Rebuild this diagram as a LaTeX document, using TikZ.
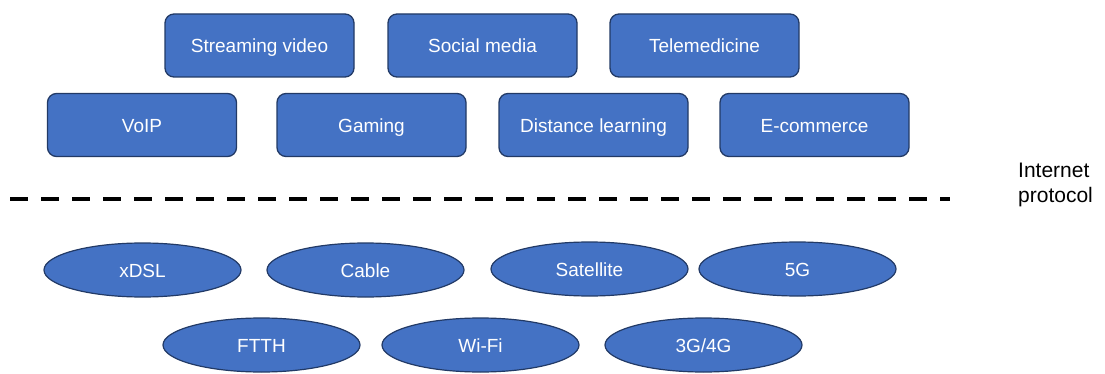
\documentclass[tikz,border=0pt]{standalone}
\usepackage{fontspec}
\setmainfont{Liberation Sans}
\usetikzlibrary{shapes.geometric}
\definecolor{boxblue}{HTML}{4472C4}
\definecolor{boxedge}{HTML}{223A66}
\begin{document}
\begin{tikzpicture}[x=1pt,y=-1pt,
  lbl/.style={text=white,font=\fontsize{19}{21}\selectfont,text height=19pt,text depth=4pt},
  appbox/.style={lbl,draw=boxedge,line width=1.3pt,fill=boxblue,rounded corners=9pt,
    minimum width=189pt,minimum height=63pt,inner sep=0pt},
  netell/.style={lbl,ellipse,draw=boxedge,line width=1.2pt,fill=boxblue,
    minimum width=197pt,minimum height=54pt,inner sep=0pt},
  sepline/.style={line width=4pt,dash pattern=on 18pt off 13pt}]
\useasboundingbox (0,0) rectangle (1105,374);
% top row
\node[appbox] (sv) at (259.5,45.5) {Streaming video};
\node[appbox] (sm) at (482.5,45.5) {Social media};
\node[appbox] (tm) at (704.5,45.5) {Telemedicine};
% second row
\node[appbox] (voip) at (142,125) {VoIP};
\node[appbox] (gam) at (371.5,125) {Gaming};
\node[appbox] (dl) at (593.5,125) {Distance learning};
\node[appbox] (ec) at (814.5,125) {E-commerce};
% separator
\coordinate (l1) at (10,199);
\coordinate (l2) at (950,199);
\draw[sepline] (l1) -- (l2);
\node[anchor=west,align=left,inner sep=0pt,font=\fontsize{21}{25}\selectfont] (ip) at (1018,185) {Internet\\protocol};
% ellipses
\node[netell] (xdsl) at (142.5,270) {xDSL};
\node[netell] (cab) at (365.5,270) {Cable};
\node[netell] (sat) at (589.5,269) {Satellite};
\node[netell] (fg) at (797.5,269) {5G};
\node[netell] (ftth) at (261.5,345) {FTTH};
\node[netell] (wifi) at (480.5,345) {Wi-Fi};
\node[netell] (g34) at (703.5,345) {3G/4G};
\end{tikzpicture}
\end{document}
